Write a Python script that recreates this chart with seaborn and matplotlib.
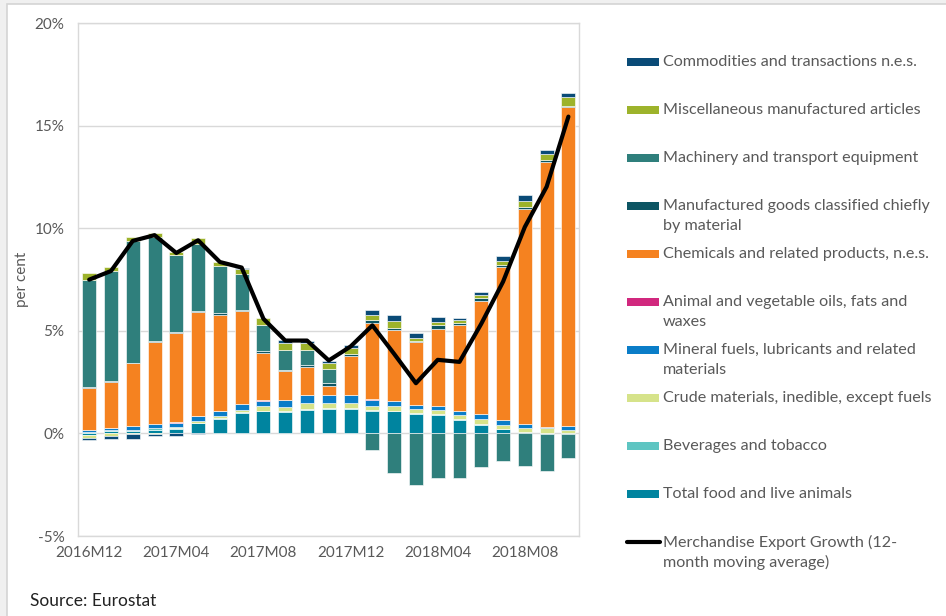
import numpy as np
import matplotlib
matplotlib.use("Agg")
import matplotlib.pyplot as plt
from matplotlib.patches import Rectangle
from matplotlib.lines import Line2D
import seaborn as sns

# ---------------- data ----------------
months = ["2016M12", "2017M01", "2017M02", "2017M03", "2017M04", "2017M05",
          "2017M06", "2017M07", "2017M08", "2017M09", "2017M10", "2017M11",
          "2017M12", "2018M01", "2018M02", "2018M03", "2018M04", "2018M05",
          "2018M06", "2018M07", "2018M08", "2018M09", "2018M10"]

food = [-0.08, 0.10, 0.10, 0.16, 0.20, 0.50, 0.70, 1.00, 1.08, 1.05, 1.16, 1.21,
        1.19, 1.11, 1.08, 0.95, 0.92, 0.67, 0.43, 0.20, 0.06, -0.03, -0.05]
beverages = [0.08, 0.06, 0.08, 0.10, 0.05, 0.02, 0.03, 0.03, 0.03, 0.03, 0.03, 0.03,
             0.03, 0.03, 0.03, 0.03, 0.03, 0.03, 0.03, 0.03, 0.02, 0.02, 0.00]
crude = [-0.12, -0.10, -0.05, -0.05, 0.05, 0.10, 0.13, 0.11, 0.21, 0.22, 0.30, 0.24,
         0.26, 0.21, 0.24, 0.21, 0.21, 0.21, 0.24, 0.20, 0.20, 0.24, 0.17]
mineral = [0.10, 0.10, 0.16, 0.20, 0.20, 0.21, 0.24, 0.30, 0.26, 0.33, 0.39, 0.41,
           0.41, 0.29, 0.25, 0.20, 0.16, 0.20, 0.25, 0.22, 0.18, 0.07, 0.17]
oils = [0.00, 0.03, 0.00, 0.00, 0.04, 0.03, 0.01, 0.00, 0.05, 0.00, 0.00, 0.00,
        0.00, 0.04, 0.00, 0.00, 0.00, 0.00, 0.00, 0.00, 0.00, 0.00, 0.00]
chemicals = [2.05, 2.24, 3.08, 4.02, 4.35, 5.04, 4.69, 4.53, 2.30, 1.43, 1.38, 0.44,
             1.88, 3.70, 3.45, 3.06, 3.78, 4.19, 5.50, 7.47, 10.48, 12.92, 15.56]
manufactured = [0.05, 0.04, 0.04, 0.04, 0.04, 0.05, 0.05, 0.05, 0.07, 0.03, 0.08, 0.13,
                0.11, 0.13, 0.10, 0.08, 0.17, 0.10, 0.17, 0.07, 0.08, 0.09, 0.09]
machinery = [5.20, 5.33, 5.91, 5.04, 3.76, 3.31, 2.32, 1.74, 1.31, 0.98, 0.74, 0.66,
             0.00, -0.80, -1.91, -2.51, -2.15, -2.18, -1.63, -1.35, -1.58, -1.79, -1.14]
miscellaneous = [0.32, 0.21, 0.23, 0.22, 0.16, 0.27, 0.19, 0.24, 0.33, 0.36, 0.35, 0.33,
                 0.29, 0.29, 0.33, 0.13, 0.16, 0.12, 0.11, 0.24, 0.33, 0.30, 0.43]
commodities = [-0.12, -0.18, -0.20, -0.08, -0.12, -0.05, 0.00, 0.05, 0.00, 0.13, 0.10, 0.10,
               0.12, 0.20, 0.32, 0.26, 0.24, 0.12, 0.17, 0.21, 0.27, 0.18, 0.17]
growth = [7.50, 7.92, 9.39, 9.67, 8.80, 9.42, 8.36, 8.09, 5.59, 4.53, 4.53, 3.56,
          4.24, 5.27, 3.88, 2.45, 3.59, 3.49, 5.35, 7.40, 10.07, 12.03, 15.45]

series_names = ["Total food and live animals",
                "Beverages and tobacco",
                "Crude materials, inedible, except fuels",
                "Mineral fuels, lubricants and related\nmaterials",
                "Animal and vegetable oils, fats and\nwaxes",
                "Chemicals and related products, n.e.s.",
                "Manufactured goods classified chiefly\nby material",
                "Machinery and transport equipment",
                "Miscellaneous manufactured articles",
                "Commodities and transactions n.e.s."]
series_values = [food, beverages, crude, mineral, oils, chemicals,
                 manufactured, machinery, miscellaneous, commodities]
series_colors = ["#00849F", "#5EC5C2", "#D6E38A", "#0A7DC8", "#D1287E",
                 "#F58220", "#0C5563", "#2F7F7C", "#9DB32B", "#0A4B77"]
line_name = "Merchandise Export Growth (12-\nmonth moving average)"
y_ticks = [-5, 0, 5, 10, 15, 20]
y_ticklabels = ["-5%", "0%", "5%", "10%", "15%", "20%"]

# ---------------- style ----------------
sns.set_theme(style="white")
plt.rcParams['font.family'] = ['Lato', 'DejaVu Sans']
TXT = "#595959"

W, H = 946, 616
fig = plt.figure(figsize=(W / 100, H / 100), dpi=100, facecolor="#f0f0f0")
fig.add_artist(Rectangle((7 / W, -0.1), 1.2, 1.1 - 4 / H, transform=fig.transFigure,
                         facecolor="white", edgecolor="#d4d4d4", lw=1.2, zorder=-5))

ax = fig.add_axes([78.3 / W, 1 - 536 / H, (579.3 - 78.3) / W, (536 - 23.3) / H])
ax.set_facecolor("white")

n = len(months)
x = np.arange(n)
pos_bottom = np.zeros(n)
neg_bottom = np.zeros(n)
for vals, color in zip(series_values, series_colors):
    v = np.asarray(vals, dtype=float)
    p = np.where(v > 0, v, 0.0)
    q = np.where(v < 0, v, 0.0)
    mp = p > 0
    mq = q < 0
    ax.bar(x[mp], p[mp], bottom=pos_bottom[mp], width=0.64, color=color,
           edgecolor=(1, 1, 1, 0.6), linewidth=0.7, zorder=2)
    ax.bar(x[mq], q[mq], bottom=neg_bottom[mq], width=0.64, color=color,
           edgecolor=(1, 1, 1, 0.6), linewidth=0.7, zorder=2)
    pos_bottom += p
    neg_bottom += q

sns.lineplot(x=x, y=growth, ax=ax, color="black", linewidth=3, zorder=4,
             legend=False, solid_joinstyle="round", solid_capstyle="round")

ax.set_xlim(-0.5, n - 0.5)
ax.set_ylim(-5, 20)
ax.set_yticks(y_ticks)
ax.set_yticklabels(y_ticklabels)
ax.set_xticks(x[::4])
ax.set_xticklabels(months[::4])
ax.grid(axis="y", color="#d9d9d9", linewidth=1.0, zorder=0)
ax.grid(axis="x", visible=False)
ax.set_axisbelow(True)
for s in ax.spines.values():
    s.set_color("#d9d9d9")
    s.set_linewidth(1.0)
ax.tick_params(axis="y", length=0, labelsize=11, colors=TXT, pad=10)
ax.tick_params(axis="x", length=0, labelsize=11, colors=TXT, pad=7)
ax.set_xlabel("")
ax.set_ylabel("per cent", fontsize=11, color=TXT)
ax.yaxis.set_label_coords(-0.098, 0.5)

# ---------------- legend (drawn as in the original layout) ----------------
def fy(px):
    return 1 - px / H

legend_items = [(series_names[i], series_colors[i], "bar") for i in range(9, -1, -1)]
legend_items.append((line_name, "black", "line"))
y0 = 62
for k, (label, color, kind) in enumerate(legend_items):
    yc = y0 + 48 * k
    if kind == "bar":
        fig.add_artist(Rectangle((627 / W, fy(yc + 4)), 32 / W, 8 / H,
                                 transform=fig.transFigure, facecolor=color,
                                 edgecolor="none"))
    else:
        fig.add_artist(Line2D([627 / W, 660 / W], [fy(yc), fy(yc)],
                              transform=fig.transFigure, color=color, lw=3))
    for j, line in enumerate(label.split("\n")):
        fig.text(663 / W, fy(yc + 20 * j), line, fontsize=11.6, color=TXT,
                 ha="left", va="center")

fig.text(30 / W, fy(601), "Source: Eurostat", fontsize=12.5, color="#222222",
         ha="left", va="center")

fig.savefig("out.png", dpi=100, facecolor=fig.get_facecolor())
